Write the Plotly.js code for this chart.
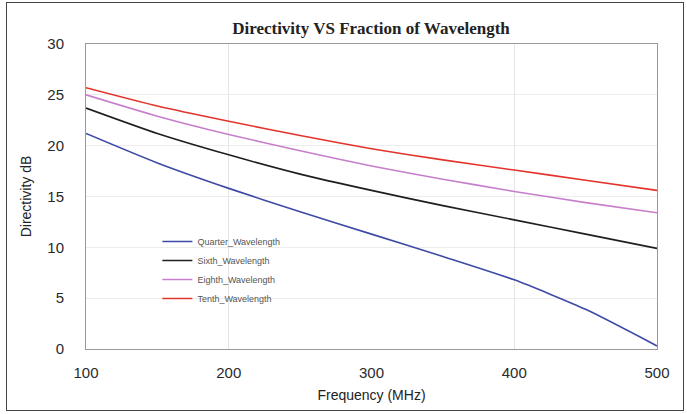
<!DOCTYPE html>
<html>
<head>
<meta charset="utf-8">
<script src="https://cdn.plot.ly/plotly-3.0.1.min.js"></script>
<style>
html,body{margin:0;padding:0;background:#fff;}
#wrap{position:relative;width:687px;height:414px;}
#chart{width:687px;height:414px;}
#frame{position:absolute;left:6px;top:2px;right:3px;bottom:3px;border:1px solid #444;pointer-events:none;}
</style>
</head>
<body>
<div id="wrap"><div id="chart"></div><div id="frame"></div></div>
<script>
const freq = [100, 150, 200, 250, 300, 350, 400, 450, 500];
const quarter = [21.2, 18.3, 15.8, 13.5, 11.3, 9.1, 6.8, 3.9, 0.3];
const sixth = [23.7, 21.2, 19.1, 17.2, 15.6, 14.1, 12.7, 11.3, 9.9];
const eighth = [25.0, 22.9, 21.1, 19.5, 18.0, 16.7, 15.5, 14.4, 13.4];
const tenth = [25.7, 23.9, 22.4, 21.0, 19.7, 18.6, 17.6, 16.6, 15.6];
const seriesNames = ["Quarter_Wavelength", "Sixth_Wavelength", "Eighth_Wavelength", "Tenth_Wavelength"];
const xTicks = [100, 200, 300, 400, 500];
const xGridTicks = [200, 400];
const yTicks = [0, 5, 10, 15, 20, 25, 30];

const colors = ["#3d4aa6", "#1e1e1e", "#c77fcb", "#e3342c"];
const ys = [quarter, sixth, eighth, tenth];
const traces = ys.map((y, i) => ({
  x: freq, y: y, type: "scatter", mode: "lines", name: seriesNames[i],
  line: {color: colors[i], width: 1.6, shape: "spline", smoothing: 0.6}
}));
traces.push({x: freq, y: quarter, xaxis: "x2", type: "scatter", mode: "none", showlegend: false, hoverinfo: "skip"});

const layout = {
  width: 687, height: 414,
  margin: {l: 86, r: 30, t: 44, b: 65},
  paper_bgcolor: "#fff", plot_bgcolor: "#fff",
  title: {text: "<b>Directivity VS Fraction of Wavelength</b>", x: 0.54, xanchor: "center", y: 0.932, yanchor: "middle",
          font: {family: "Liberation Serif, serif", size: 17, color: "#222"}},
  font: {family: "Liberation Sans, Arial, sans-serif", color: "#222"},
  xaxis: {range: [100, 500], tickvals: xTicks, showgrid: false, zeroline: false,
          showline: true, linecolor: "#999", linewidth: 1, mirror: true, ticks: "",
          tickfont: {size: 15, color: "#2a2a2a"}, ticklabelstandoff: 10,
          title: {text: "Frequency (MHz)", font: {size: 14}, standoff: 10}},
  xaxis2: {range: [100, 500], overlaying: "x", tickvals: xGridTicks, showticklabels: false,
           showgrid: true, gridcolor: "#e4e4e4", gridwidth: 1, zeroline: false, showline: false},
  yaxis: {range: [0, 30], tickvals: yTicks, showgrid: true, gridcolor: "#ececec", zeroline: false,
          showline: true, linecolor: "#999", linewidth: 1, mirror: true, ticks: "",
          tickfont: {size: 15, color: "#2a2a2a"}, ticklabelstandoff: 18,
          title: {text: "Directivity dB", font: {size: 14}, standoff: 12}},
  showlegend: true,
  legend: {x: 0.125, y: 0.40, xanchor: "left", yanchor: "top", bgcolor: "rgba(0,0,0,0)",
           font: {size: 9, color: "#555"}, itemwidth: 30, tracegroupgap: 0}
};
Plotly.newPlot("chart", traces, layout, {displayModeBar: false, staticPlot: true});
</script>
</body>
</html>
